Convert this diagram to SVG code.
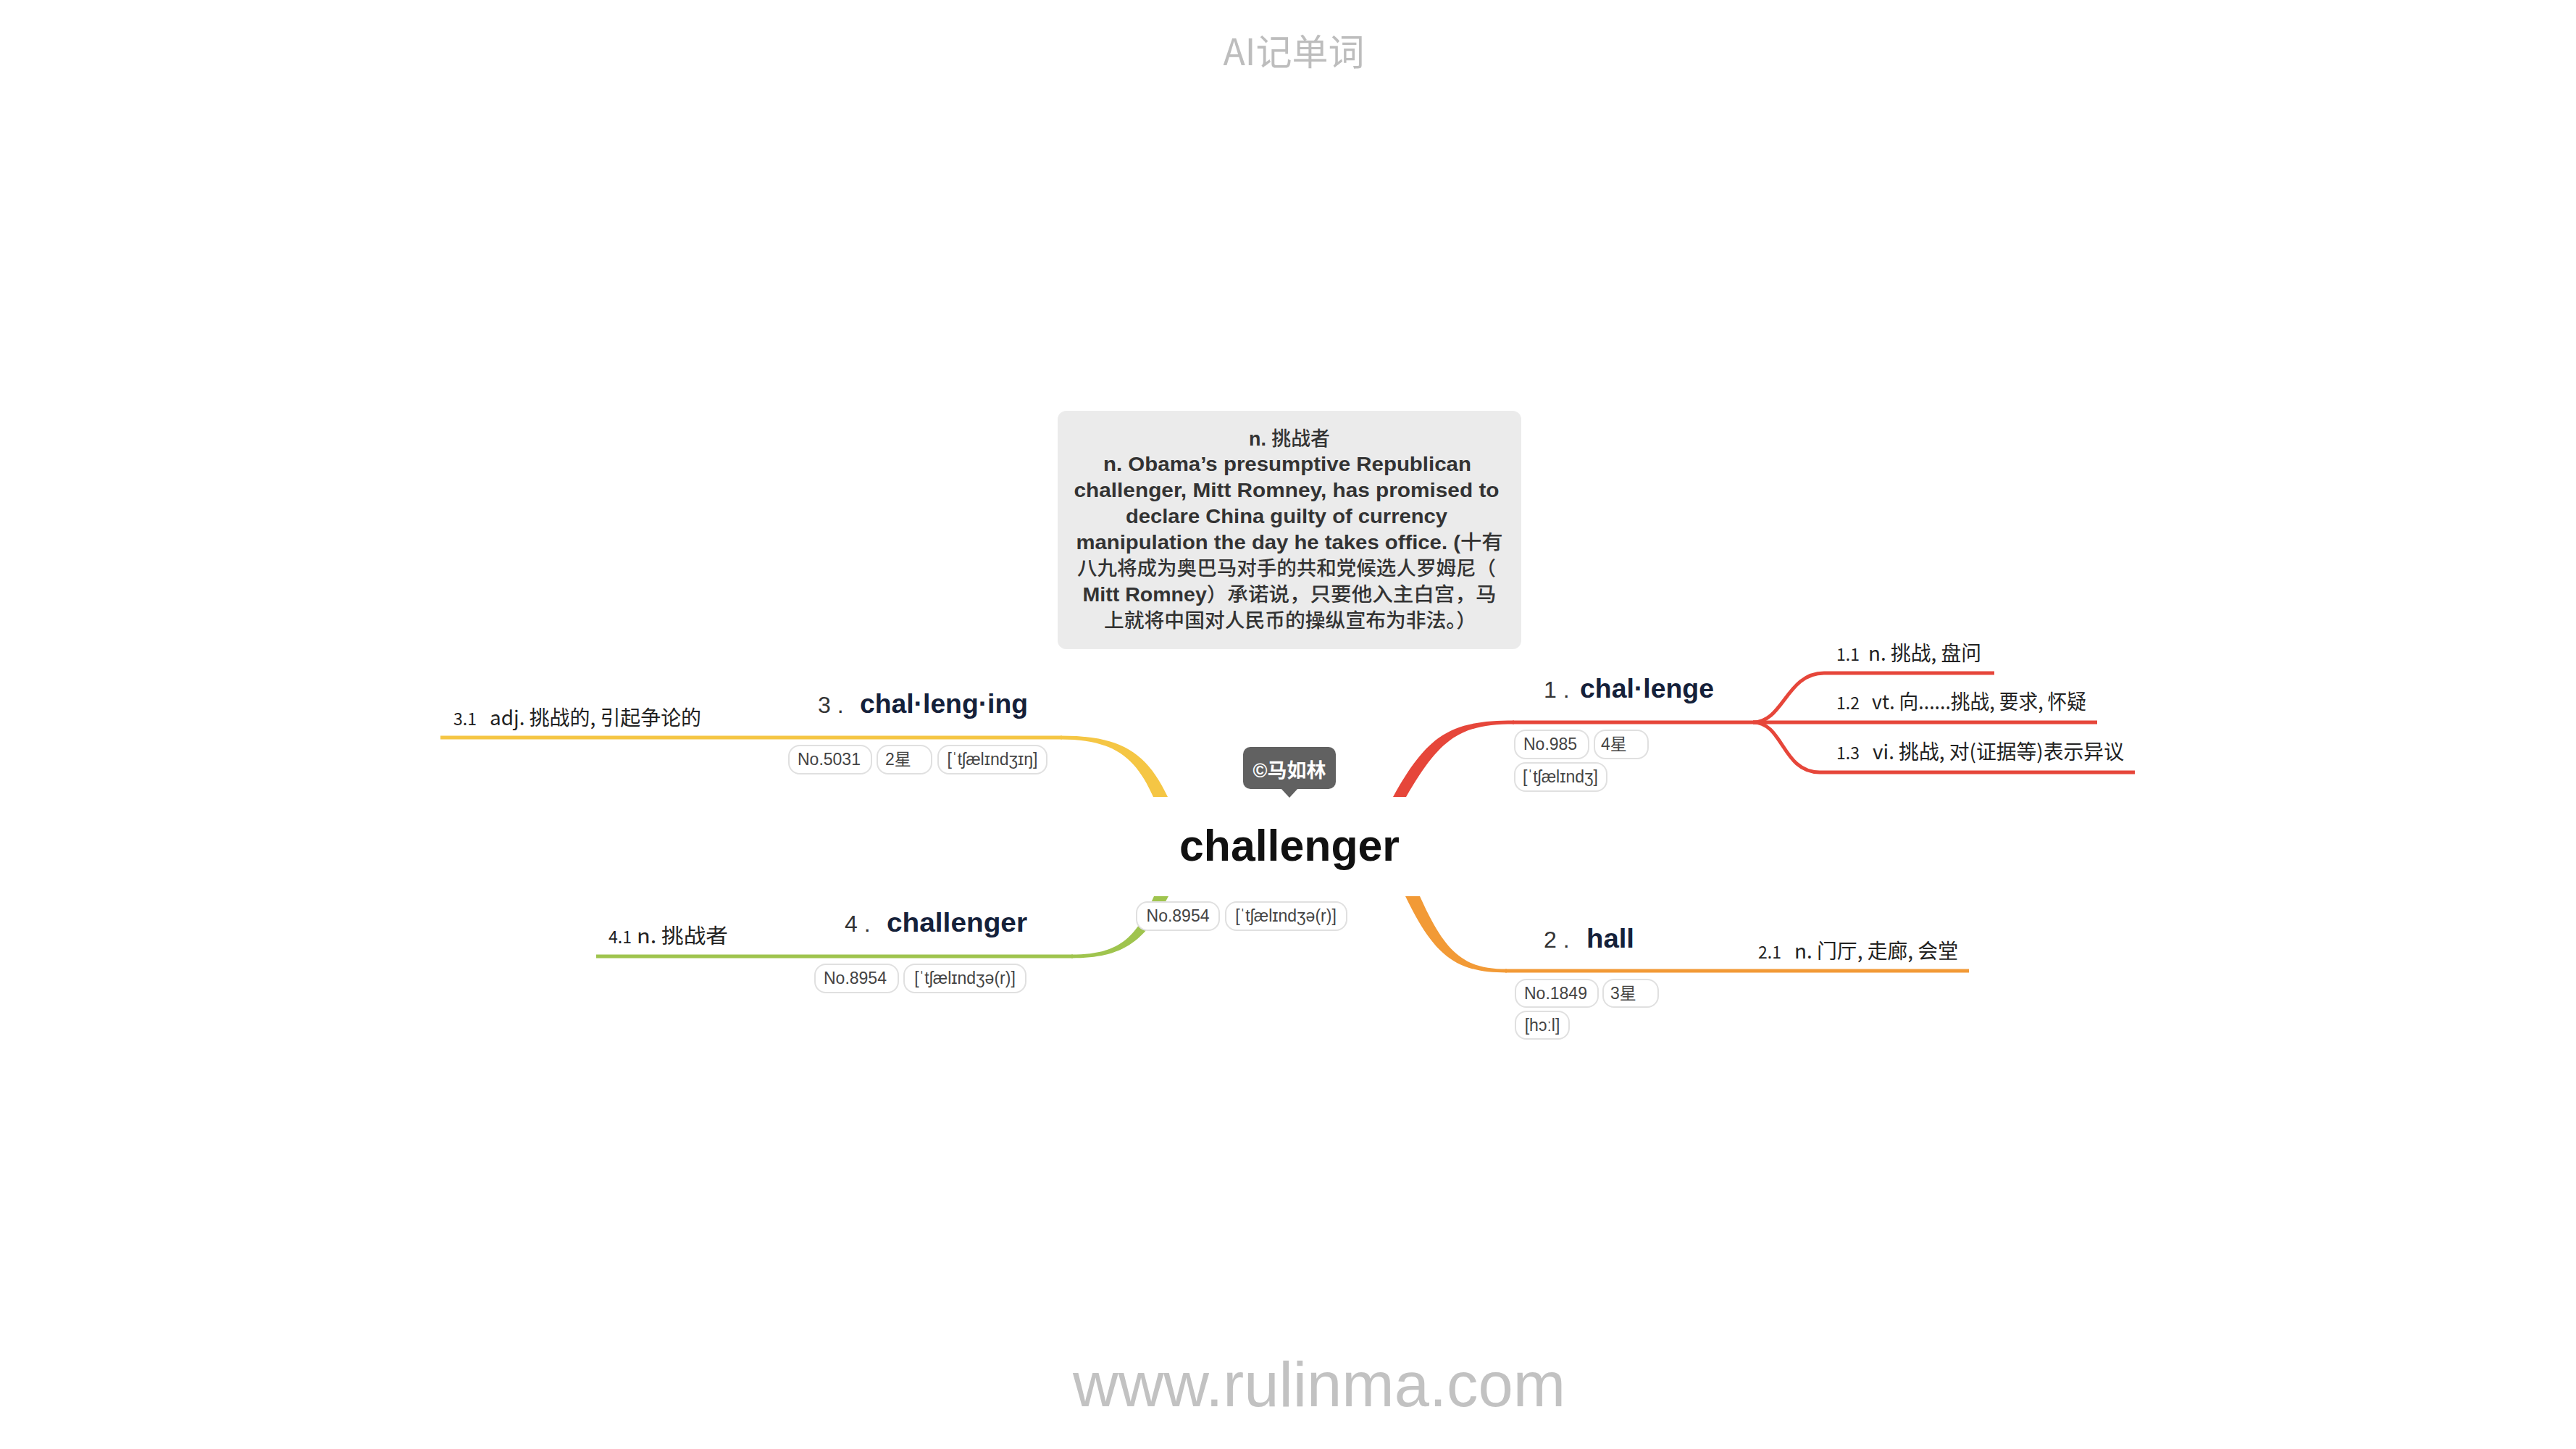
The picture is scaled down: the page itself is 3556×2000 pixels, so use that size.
<svg xmlns="http://www.w3.org/2000/svg" width="3556" height="2000" viewBox="0 0 3556 2000">
<style>
.bt{font-family:"Liberation Sans","Noto Sans CJK SC",sans-serif;font-size:27px;fill:#333;text-anchor:middle}
.b{font-weight:700}
.r{font-family:"Noto Sans CJK SC",sans-serif;font-weight:500}
.pill{fill:#fff;stroke:#e0e0e0;stroke-width:2}
.pt{font-family:"Liberation Sans","DejaVu Sans","Noto Sans CJK SC",sans-serif;font-size:23px;fill:#444}
.num{font-family:"Liberation Sans",sans-serif;font-size:32px;fill:#333}
.head{font-family:"Liberation Sans",sans-serif;font-weight:700;font-size:37px;fill:#15213a}
.sn{font-family:"Noto Sans CJK SC",sans-serif;font-size:23px;fill:#222}
.sl{font-family:"Noto Sans CJK SC",sans-serif;font-size:28px;fill:#222}
.ln{fill:none;stroke-width:5;stroke-linecap:butt}
</style>
<rect width="3556" height="2000" fill="#fff"/>
<text x="1786" y="90" text-anchor="middle" font-family="Noto Sans CJK SC, sans-serif" font-size="50" fill="#bdbdbd">AI记单词</text>
<text x="1821" y="1941" text-anchor="middle" font-family="Liberation Sans, sans-serif" font-size="88" fill="#c2c2c2" textLength="680" lengthAdjust="spacingAndGlyphs">www.rulinma.com</text>

<g id="connectors">
  <!-- red -->
  <path d="M1923 1100 C1972 1011 2005 994.5 2090 994.5 L2090 999.5 C2015 999.5 1988 1019 1941 1100 Z" fill="#e6463a"/>
  <path class="ln" stroke="#e6463a" d="M2088 997 L2895 997"/>
  <path class="ln" stroke="#e6463a" stroke-width="4" d="M2420 997 C2462 997 2466 929 2518 929 L2753 929"/>
  <path class="ln" stroke="#e6463a" stroke-width="4" d="M2420 997 C2462 997 2460 1066 2512 1066 L2947 1066"/>
  <!-- orange -->
  <path d="M1940 1237 C1980 1320 2010 1342.5 2080 1342.5 L2080 1337.5 C2020 1337.5 1995 1315 1960 1237 Z" fill="#f29a36"/>
  <path class="ln" stroke="#f29a36" d="M2078 1340 L2718 1340"/>
  <!-- yellow -->
  <path d="M1464 1015.5 C1545 1015.5 1582 1036 1612 1100 L1592 1100 C1568 1046 1538 1020.5 1464 1020.5 Z" fill="#f5c644"/>
  <path class="ln" stroke="#f5c644" d="M608 1018 L1466 1018"/>
  <!-- green -->
  <path d="M1613 1237 C1580 1300 1550 1322.5 1479 1322.5 L1479 1317.5 C1545 1317.5 1568 1295 1593 1237 Z" fill="#9fc44e"/>
  <path class="ln" stroke="#9fc44e" d="M823 1320 L1481 1320"/>
</g>

<g id="note">
  <rect x="1460" y="567" width="640" height="329" rx="12" fill="#ebebeb"/>
  <text class="bt" x="1780" y="615" textLength="112" lengthAdjust="spacingAndGlyphs"><tspan class="b">n. </tspan><tspan class="r">挑战者</tspan></text>
  <text class="bt b" x="1777" y="650" textLength="508" lengthAdjust="spacingAndGlyphs">n. Obama’s presumptive Republican</text>
  <text class="bt b" x="1776" y="686" textLength="587" lengthAdjust="spacingAndGlyphs">challenger, Mitt Romney, has promised to</text>
  <text class="bt b" x="1776" y="722" textLength="444" lengthAdjust="spacingAndGlyphs">declare China guilty of currency</text>
  <text class="bt" x="1780" y="758" textLength="589" lengthAdjust="spacingAndGlyphs"><tspan class="b">manipulation the day he takes office. (</tspan><tspan class="r">十有</tspan></text>
  <text class="bt r" x="1776" y="794" textLength="578" lengthAdjust="spacingAndGlyphs">八九将成为奥巴马对手的共和党候选人罗姆尼（</text>
  <text class="bt" x="1780" y="830" textLength="571" lengthAdjust="spacingAndGlyphs"><tspan class="b">Mitt Romney</tspan><tspan class="r">）承诺说，只要他入主白宫，马</tspan></text>
  <text class="bt r" x="1781" y="866" textLength="514" lengthAdjust="spacingAndGlyphs">上就将中国对人民币的操纵宣布为非法。）</text>
</g>

<g id="center">
  <rect x="1716" y="1031" width="128" height="58" rx="10" fill="#616161"/>
  <path d="M1768 1088 L1792 1088 L1780 1101 Z" fill="#616161"/>
  <text x="1780" y="1073" text-anchor="middle" font-family="Liberation Sans, Noto Sans CJK SC, sans-serif" font-weight="700" font-size="27" fill="#fff">©马如林</text>
  <text x="1780" y="1188" text-anchor="middle" font-family="Liberation Sans, sans-serif" font-weight="700" font-size="61" fill="#111" textLength="304" lengthAdjust="spacingAndGlyphs">challenger</text>
  <rect class="pill" x="1569" y="1245" width="114" height="39" rx="15"/>
  <text class="pt" x="1626" y="1272" text-anchor="middle">No.8954</text>
  <rect class="pill" x="1692" y="1245" width="167" height="39" rx="15"/>
  <text class="pt" x="1775" y="1272" text-anchor="middle">[ˈtʃælɪndʒə(r)]</text>
</g>

<g id="branch1">
  <text class="num" x="2131" y="963">1 .</text>
  <text class="head" x="2181" y="963" textLength="185" lengthAdjust="spacingAndGlyphs">chal·lenge</text>
  <rect class="pill" x="2091" y="1008" width="102" height="39" rx="15"/>
  <text class="pt" x="2103" y="1035">No.985</text>
  <rect class="pill" x="2201" y="1008" width="74" height="39" rx="15"/>
  <text class="pt" x="2210" y="1035">4星</text>
  <rect class="pill" x="2091" y="1053" width="127" height="39" rx="15"/>
  <text class="pt" x="2154" y="1080" text-anchor="middle">[ˈtʃælɪndʒ]</text>
</g>
<g id="sub1-1">
  <text class="sn" x="2535" y="912">1.1</text>
  <text class="sl" x="2579" y="912" textLength="156" lengthAdjust="spacingAndGlyphs">n. 挑战, 盘问</text>
</g>
<g id="sub1-2">
  <text class="sn" x="2535" y="979">1.2</text>
  <text class="sl" x="2584" y="979" textLength="296" lengthAdjust="spacingAndGlyphs">vt. 向......挑战, 要求, 怀疑</text>
</g>
<g id="sub1-3">
  <text class="sn" x="2535" y="1048">1.3</text>
  <text class="sl" x="2585" y="1048" textLength="347" lengthAdjust="spacingAndGlyphs">vi. 挑战, 对(证据等)表示异议</text>
</g>

<g id="branch2">
  <text class="num" x="2131" y="1308">2 .</text>
  <text class="head" x="2190" y="1308" textLength="66" lengthAdjust="spacingAndGlyphs">hall</text>
  <rect class="pill" x="2092" y="1352" width="114" height="38" rx="15"/>
  <text class="pt" x="2104" y="1379">No.1849</text>
  <rect class="pill" x="2213" y="1352" width="76" height="38" rx="15"/>
  <text class="pt" x="2223" y="1379">3星</text>
  <rect class="pill" x="2092" y="1396" width="74" height="38" rx="15"/>
  <text class="pt" x="2129" y="1423" text-anchor="middle">[hɔːl]</text>
</g>
<g id="sub2-1">
  <text class="sn" x="2427" y="1323">2.1</text>
  <text class="sl" x="2477" y="1323" textLength="226" lengthAdjust="spacingAndGlyphs">n. 门厅, 走廊, 会堂</text>
</g>

<g id="branch3">
  <text class="num" x="1129" y="984">3 .</text>
  <text class="head" x="1187" y="984" textLength="232" lengthAdjust="spacingAndGlyphs">chal·leng·ing</text>
  <rect class="pill" x="1089" y="1029" width="114" height="39" rx="15"/>
  <text class="pt" x="1101" y="1056">No.5031</text>
  <rect class="pill" x="1211" y="1029" width="75" height="39" rx="15"/>
  <text class="pt" x="1222" y="1056">2星</text>
  <rect class="pill" x="1295" y="1029" width="150" height="39" rx="15"/>
  <text class="pt" x="1370" y="1056" text-anchor="middle">[ˈtʃælɪndʒɪŋ]</text>
</g>
<g id="sub3-1">
  <text class="sn" x="626" y="1001">3.1</text>
  <text class="sl" x="676" y="1001" textLength="292" lengthAdjust="spacingAndGlyphs">adj. 挑战的, 引起争论的</text>
</g>

<g id="branch4">
  <text class="num" x="1166" y="1286">4 .</text>
  <text class="head" x="1224" y="1286" textLength="194" lengthAdjust="spacingAndGlyphs">challenger</text>
  <rect class="pill" x="1125" y="1331" width="115" height="39" rx="15"/>
  <text class="pt" x="1137" y="1358">No.8954</text>
  <rect class="pill" x="1248" y="1331" width="168" height="39" rx="15"/>
  <text class="pt" x="1332" y="1358" text-anchor="middle">[ˈtʃælɪndʒə(r)]</text>
</g>
<g id="sub4-1">
  <text class="sn" x="840" y="1302">4.1</text>
  <text class="sl" x="879" y="1302" textLength="126" lengthAdjust="spacingAndGlyphs">n. 挑战者</text>
</g>
</svg>
